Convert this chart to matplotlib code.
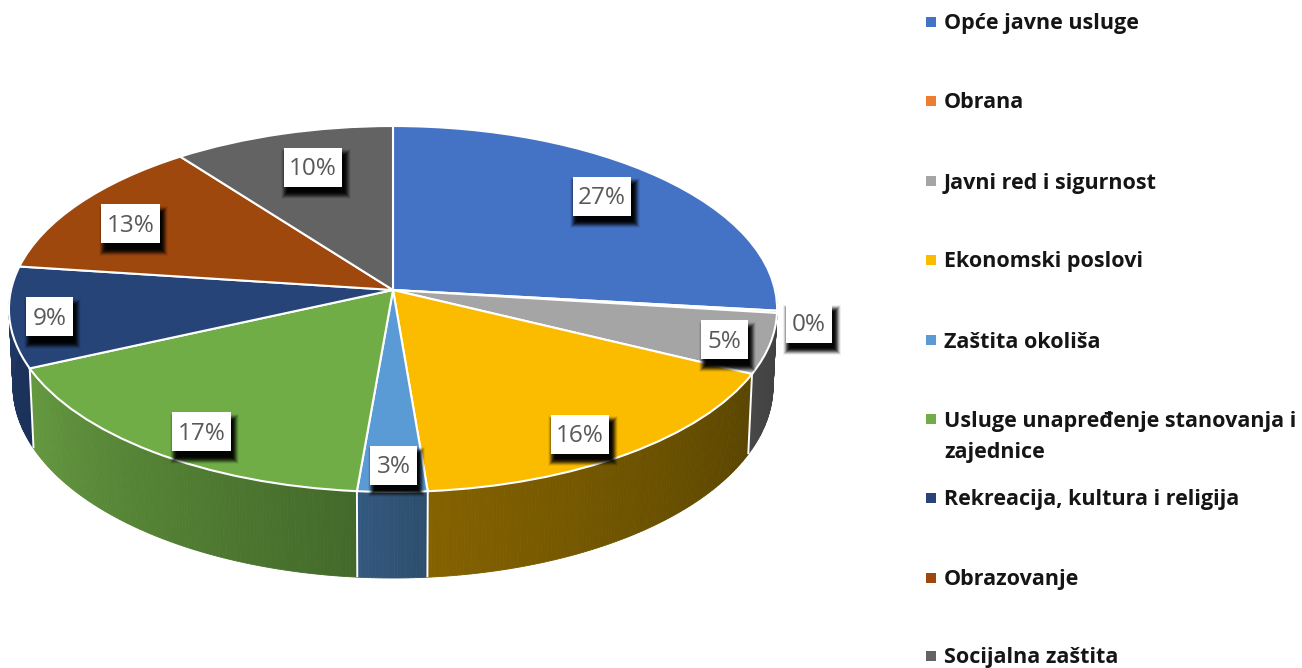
import numpy as np
import matplotlib
matplotlib.use("Agg")
import matplotlib.pyplot as plt
from matplotlib.patches import Rectangle
from matplotlib.transforms import Transform
from matplotlib.colors import to_rgb

# ---- data ----
categories = ["Opće javne usluge", "Obrana", "Javni red i sigurnost", "Ekonomski poslovi",
              "Zaštita okoliša", "Usluge unapređenje stanovanja i\nzajednice",
              "Rekreacija, kultura i religija", "Obrazovanje", "Socijalna zaštita"]
values = [26.8, 0.2, 5.3, 16.4, 2.65, 16.85, 8.9, 12.6, 10.3]

# ---- styling ----
top_colors = ["#4472C4", "#ED7D31", "#A5A5A5", "#FBBC00", "#5B9BD5", "#70AD47", "#264478", "#9E480E", "#636363"]
wall_right = ["#2c4a80", "#9a5120", "#404040", "#594500", "#2d4e6d", "#43692a", "#1b3159", "#5e2b08", "#3b3b3b"]
wall_left = ["#2c4a80", "#9a5120", "#474747", "#846200", "#34597f", "#64993f", "#1f3864", "#5e2b08", "#3b3b3b"]
label_radius = [0.797, 1.084, 0.885, 0.863, 0.879, 0.861, 0.897, 0.81, 0.764]
label_nudge = [-1.7, 2.7, 0.9, 2.6, -0.2, -2.6, -0.8, -2.2, 1.4]

CX, K = 393.0, 0.1038
TOP = (290.0, 382.0, 181.0)     # apex y, x scale, y scale
BOT = (366.0, 378.0, 190.0)


def project(u, v, level=TOP):
    y0, a, b = level
    d = 1 + K * v
    return CX + a * u / d, y0 - b * v / d


class Perspective(Transform):
    input_dims = output_dims = 2
    is_affine = False
    has_inverse = False

    def transform_non_affine(self, values):
        xy = np.asarray(values, dtype=float)
        x, y = project(xy[:, 0], xy[:, 1])
        return np.column_stack([x, y])


fig = plt.figure(figsize=(13.02, 6.68), dpi=100, facecolor="white")
ax = fig.add_axes([0, 0, 1, 1])

wedges, _ = ax.pie(values, colors=top_colors, startangle=90, counterclock=False,
                   wedgeprops=dict(edgecolor="white", linewidth=1.5, zorder=3))
persp = Perspective()
for w in wedges:
    w.set_transform(persp + ax.transData)
ax.set_aspect("auto")
ax.set_xlim(0, 1302)
ax.set_ylim(668, 0)
ax.axis("off")

# side walls, clockwise angle measured from twelve o'clock
edges = np.concatenate([[0], np.cumsum(values)]) / np.sum(values) * 2 * np.pi
for i in range(len(values)):
    a0, a1 = edges[i], edges[i + 1]
    n = max(2, int(np.degrees(a1 - a0) / 0.5))
    grid = np.linspace(a0, a1, n + 1)
    c0, c1 = np.array(to_rgb(wall_right[i])), np.array(to_rgb(wall_left[i]))
    for j in range(n):
        mid = (grid[j] + grid[j + 1]) / 2
        if np.cos(mid) > 0.16:      # hidden behind the top
            continue
        aa = np.array([grid[j], grid[j + 1]])
        tx, ty = project(np.sin(aa), np.cos(aa), TOP)
        bx, by = project(np.sin(aa), np.cos(aa), BOT)
        col = c0 + (c1 - c0) * (j + 0.5) / n
        ax.fill([tx[0], tx[1], bx[1], bx[0]], [ty[0], ty[1], by[1], by[0]],
                facecolor=col, edgecolor=col, linewidth=0.6, zorder=1)
for a in edges:
    if np.cos(a) < -0.14:
        tx, ty = project(np.sin(a), np.cos(a), TOP)
        bx, by = project(np.sin(a), np.cos(a), BOT)
        ax.plot([tx, bx], [ty, by], color="white", lw=1.4, zorder=2, solid_capstyle="butt")

# data labels
mids = (edges[:-1] + edges[1:]) / 2
for val, r, nudge, mid in zip(values, label_radius, label_nudge, mids):
    ang = mid + np.radians(nudge)
    x, y = project(r * np.sin(ang), r * np.cos(ang))
    txt = f"{val:.0f}%"
    ax.text(x, y + 2, txt, ha="center", va="center", color="#595959", fontsize=17.5,
            family="Open Sans", zorder=8)
    w = (37 if len(txt) == 2 else 49) + 9.5
    h = 39
    for k in range(8):
        grow = 5.5 - k * 1.0
        ax.add_patch(Rectangle((x - w / 2 + 3 - grow, y - h / 2 + 7 - grow), w + 2 * grow, h + 2 * grow,
                               facecolor="black", edgecolor="none", alpha=0.06 + 0.08 * k, zorder=6))
    ax.add_patch(Rectangle((x - w / 2, y - h / 2), w, h, facecolor="white", edgecolor="none", zorder=7))

# legend
legend_y = [22, 101, 181, 260, 340, 419, 498, 578, 656]
for y, cat, col in zip(legend_y, categories, top_colors):
    ax.add_patch(Rectangle((926, y - 5), 10, 10, facecolor=col, edgecolor="none", zorder=5))
    extra = cat.count("\n")
    ax.text(944, y + 2 + 16 * extra, cat, ha="left", va="center", fontsize=15.5, fontweight="bold",
            family="Open Sans", color="#151515", linespacing=1.6, zorder=5)

fig.savefig("out.png", dpi=100, facecolor="white")
